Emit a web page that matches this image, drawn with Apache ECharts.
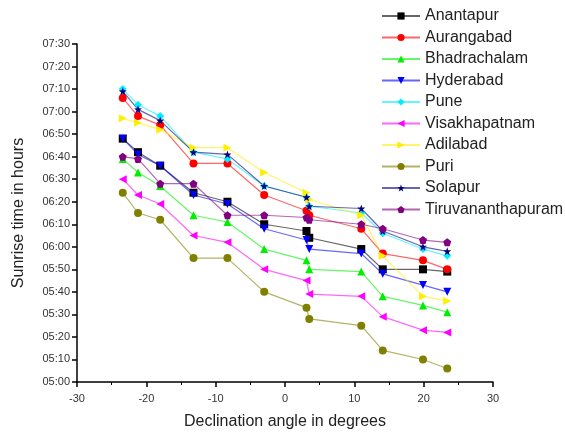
<!DOCTYPE html>
<html>
<head>
<meta charset="utf-8">
<script src="https://cdn.jsdelivr.net/npm/echarts@6/dist/echarts.min.js"></script>
<style>
  html, body { margin: 0; padding: 0; background: #fff; }
  #chart { width: 565px; height: 437px; }
</style>
</head>
<body>
<div id="chart"></div>
<script>
// declination angle (degrees) of each observation
const declination = [-23.4, -21.2, -18.0, -13.2, -8.3, -3.0, 3.1, 3.5, 11.0, 14.1, 19.9, 23.4]

// sunrise times
const anantapur = ['6:48', '6:42', '6:36', '6:24', '6:20', '6:10', '6:07', '6:04', '5:59', '5:50', '5:50', '5:49']
const aurangabad = ['7:06', '6:58', '6:54', '6:37', '6:37', '6:23', '6:16', '6:14', '6:08', '5:57', '5:54', '5:50']
const bhadrachalam = ['6:39', '6:33', '6:27', '6:14', '6:11', '5:59', '5:54', '5:50', '5:49', '5:38', '5:34', '5:31']
const hyderabad = ['6:48', '6:41', '6:36', '6:23', '6:19', '6:08', '6:03', '5:59', '5:57', '5:48', '5:43', '5:40']
const pune = ['7:10', '7:03', '6:58', '6:42', '6:39', '6:27', '6:22', '6:18', '6:15', '6:06', '5:59', '5:56']
const visakhapatnam = ['6:30', '6:23', '6:19', '6:05', '6:02', '5:50', '5:45', '5:39', '5:38', '5:29', '5:23', '5:22']
const adilabad = ['6:57', '6:55', '6:52', '6:44', '6:44', '6:33', '6:24', '6:21', '6:14', '5:56', '5:38', '5:36']
const puri = ['6:24', '6:15', '6:12', '5:55', '5:55', '5:40', '5:33', '5:28', '5:25', '5:14', '5:10', '5:06']
const solapur = ['7:09', '7:01', '6:56', '6:42', '6:41', '6:27', '6:22', '6:18', '6:17', '6:07', '6:00', '5:58']
const tiruvananthapuram = ['6:40', '6:39', '6:28', '6:28', '6:14', '6:14', '6:13', '6:12', '6:10', '6:08', '6:03', '6:02']

const STAR = 'path://M50,0L61.76,33.82L97.55,34.55L69.02,56.18L79.39,90.45L50,70L20.61,90.45L30.98,56.18L2.45,34.55L38.24,33.82Z'
const PENTAGON = 'path://M50,0L97.55,34.55L79.39,90.45L20.61,90.45L2.45,34.55Z'
const TRI_DOWN = 'path://M0,0L100,0L50,100Z'
const TRI_LEFT = 'path://M0,50L100,0L100,100Z'
const TRI_RIGHT = 'path://M100,50L0,0L0,100Z'

const cities = [
  { name: 'Anantapur', data: anantapur, color: '#000000', symbol: 'rect' },
  { name: 'Aurangabad', data: aurangabad, color: '#ff0000', symbol: 'circle' },
  { name: 'Bhadrachalam', data: bhadrachalam, color: '#00ee00', symbol: 'triangle' },
  { name: 'Hyderabad', data: hyderabad, color: '#0000ff', symbol: TRI_DOWN },
  { name: 'Pune', data: pune, color: '#00eeff', symbol: 'diamond' },
  { name: 'Visakhapatnam', data: visakhapatnam, color: '#ff00ff', symbol: TRI_LEFT },
  { name: 'Adilabad', data: adilabad, color: '#ffee00', symbol: TRI_RIGHT },
  { name: 'Puri', data: puri, color: '#808000', symbol: 'circle' },
  { name: 'Solapur', data: solapur, color: '#000080', symbol: STAR },
  { name: 'Tiruvananthapuram', data: tiruvananthapuram, color: '#800080', symbol: PENTAGON }
]

const toMinutes = (t) => {
  const [h, m] = t.split(':').map(Number)
  return h * 60 + m
}
const pad = (n) => String(n).padStart(2, '0')
const fmtTime = (v) => `${pad(Math.floor(v / 60))}:${pad(v % 60)}`

const textColor = '#333'
const font = 'Liberation Sans, Arial, sans-serif'

const option = {
  animation: false,
  backgroundColor: '#fff',
  textStyle: { fontFamily: font },
  grid: { left: 77, right: 72, top: 44, bottom: 55 },
  legend: {
    orient: 'vertical',
    left: 376,
    top: 3,
    itemWidth: 38,
    itemHeight: 9,
    itemGap: 5.5,
    textStyle: { fontSize: 16, color: '#222', fontFamily: font },
    data: cities.map((c) => c.name)
  },
  xAxis: {
    type: 'value',
    min: -30,
    max: 30,
    interval: 10,
    name: 'Declination angle in degrees',
    nameLocation: 'middle',
    nameGap: 32,
    nameTextStyle: { fontSize: 16, color: '#222' },
    axisLine: { onZero: false, lineStyle: { color: '#000', width: 1.5 } },
    axisTick: { length: 5, lineStyle: { color: '#000', width: 1.5 } },
    minorTick: { show: true, splitNumber: 2, length: 3, lineStyle: { color: '#000' } },
    axisLabel: { fontSize: 11, color: textColor, margin: 11 },
    splitLine: { show: false }
  },
  yAxis: {
    type: 'value',
    min: 300,
    max: 450,
    interval: 10,
    name: 'Sunrise time in hours',
    nameLocation: 'middle',
    nameGap: 50,
    nameTextStyle: { fontSize: 16, color: '#222' },
    axisLine: { show: true, onZero: false, lineStyle: { color: '#000', width: 1.5 } },
    axisTick: { show: true, length: 5, lineStyle: { color: '#000', width: 1.5 } },
    axisLabel: { fontSize: 11, color: textColor, margin: 7, formatter: fmtTime },
    splitLine: { show: false }
  },
  series: cities.map((c) => ({
    name: c.name,
    type: 'line',
    symbol: c.symbol,
    symbolSize: 8,
    showAllSymbol: true,
    color: c.color,
    itemStyle: { color: c.color },
    lineStyle: { color: c.color, width: 1.2, opacity: 0.6 },
    data: declination.map((d, i) => [d, toMinutes(c.data[i])])
  }))
}

const chart = echarts.init(document.getElementById('chart'))
chart.setOption(option)
</script>
</body>
</html>
